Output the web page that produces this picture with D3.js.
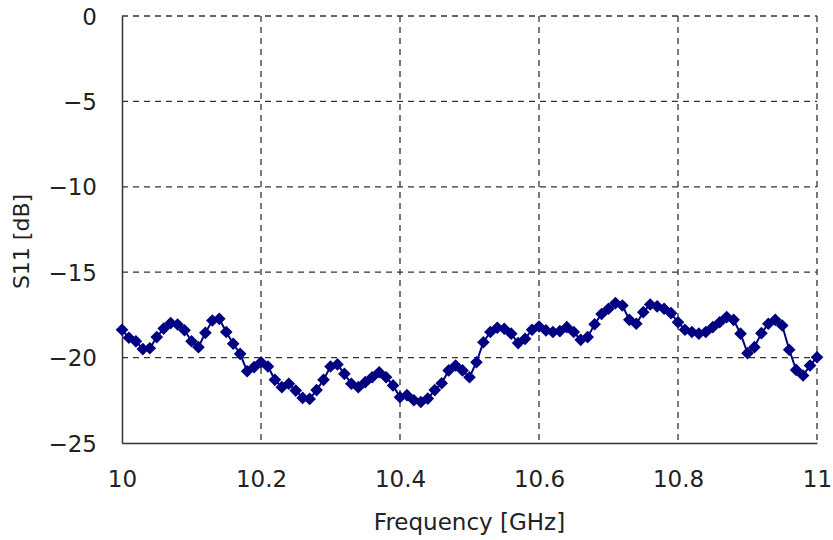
<!DOCTYPE html>
<html>
<head>
<meta charset="utf-8">
<script src="https://cdn.jsdelivr.net/npm/d3@7"></script>
<style>
  body { margin: 0; background: #fff; }
  svg { display: block; font-family: "DejaVu Sans", sans-serif; }
</style>
</head>
<body>
<div id="chart"></div>
<script>
// frequency sweep, 10 - 11 GHz in 0.01 steps
const freqStart = 10;
const freqStep = 0.01;
const s11 = [
  -18.37, -18.84, -19.05, -19.5, -19.45, -18.8, -18.3, -17.98, -18.06, -18.4,
  -19.04, -19.39, -18.55, -17.83, -17.73, -18.5, -19.19, -19.78, -20.8, -20.56,
  -20.27, -20.52, -21.3, -21.73, -21.53, -21.93, -22.36, -22.42, -21.9, -21.3,
  -20.52, -20.4, -20.95, -21.53, -21.73, -21.44, -21.15, -20.86, -21.15, -21.63,
  -22.32, -22.2, -22.5, -22.6, -22.4, -21.9, -21.5, -20.75, -20.46, -20.75,
  -21.15, -20.27, -19.1, -18.5, -18.25, -18.31, -18.6, -19.15, -18.9, -18.37,
  -18.18, -18.41, -18.5, -18.45, -18.22, -18.5, -18.96, -18.8, -18.05, -17.45,
  -17.14, -16.81, -16.95, -17.79, -18.02, -17.34, -16.89, -17.0, -17.14, -17.4,
  -17.93, -18.37, -18.5, -18.6, -18.5, -18.22, -17.93, -17.63, -17.79, -18.6,
  -19.74, -19.39, -18.57, -18.02, -17.79, -18.12, -19.54, -20.72, -21.05, -20.46,
  -19.98
];
const xTicks = [10, 10.2, 10.4, 10.6, 10.8, 11];
const yTicks = [0, -5, -10, -15, -20, -25];

const data = s11.map((v, i) => ({ f: +(freqStart + i * freqStep).toFixed(2), v }));

const width = 833;
const height = 540;
const margin = { top: 16, right: 16, bottom: 97, left: 122 };

const x = d3.scaleLinear().domain([10, 11]).range([margin.left, width - margin.right]);
const y = d3.scaleLinear().domain([-25, 0]).range([height - margin.bottom, margin.top]);

const svg = d3.select("#chart").append("svg")
  .attr("width", width)
  .attr("height", height);

// dashed grid
svg.append("g")
  .selectAll("line")
  .data(xTicks.slice(1))
  .join("line")
  .attr("x1", (d) => x(d)).attr("x2", (d) => x(d))
  .attr("y1", y(0)).attr("y2", y(-25))
  .attr("stroke", "#333").attr("stroke-width", 1.3)
  .attr("stroke-dasharray", "6,5");

svg.append("g")
  .selectAll("line")
  .data(yTicks.slice(0, -1))
  .join("line")
  .attr("x1", x(10)).attr("x2", x(11))
  .attr("y1", (d) => y(d)).attr("y2", (d) => y(d))
  .attr("stroke", "#333").attr("stroke-width", 1.3)
  .attr("stroke-dasharray", "6,5");

const fmt = d3.format("");

const gx = svg.append("g")
  .attr("transform", `translate(0,${y(-25)})`)
  .call(d3.axisBottom(x).tickValues(xTicks).tickFormat(fmt).tickSize(0).tickPadding(28));
const gy = svg.append("g")
  .attr("transform", `translate(${x(10)},0)`)
  .call(d3.axisLeft(y).tickValues(yTicks).tickFormat(fmt).tickSize(0).tickPadding(25));

[gx, gy].forEach((g) => {
  g.select(".domain").attr("stroke", "#333").attr("stroke-width", 1.5);
  g.selectAll(".tick text")
    .attr("fill", "#222")
    .style("font-size", "23px")
    .style("font-family", '"DejaVu Sans", sans-serif');
});
gy.selectAll(".tick text").attr("dy", "0.35em");

// axis titles
svg.append("text")
  .attr("x", (x(10) + x(11)) / 2)
  .attr("y", 530)
  .attr("text-anchor", "middle")
  .attr("fill", "#222")
  .style("font-size", "23px")
  .text("Frequency [GHz]");

svg.append("text")
  .attr("transform", `translate(29,${(y(0) + y(-25)) / 2 + 12}) rotate(-90)`)
  .attr("text-anchor", "middle")
  .attr("fill", "#222")
  .style("font-size", "22px")
  .text("S11 [dB]");

// series
const line = d3.line().x((d) => x(d.f)).y((d) => y(d.v));

svg.append("path")
  .datum(data)
  .attr("fill", "none")
  .attr("stroke", "#000080")
  .attr("stroke-width", 2)
  .attr("d", line);

svg.append("g")
  .selectAll("path")
  .data(data)
  .join("path")
  .attr("d", d3.symbol(d3.symbolSquare, 80))
  .attr("transform", (d) => `translate(${x(d.f)},${y(d.v)}) rotate(45)`)
  .attr("fill", "#000080");
</script>
</body>
</html>
